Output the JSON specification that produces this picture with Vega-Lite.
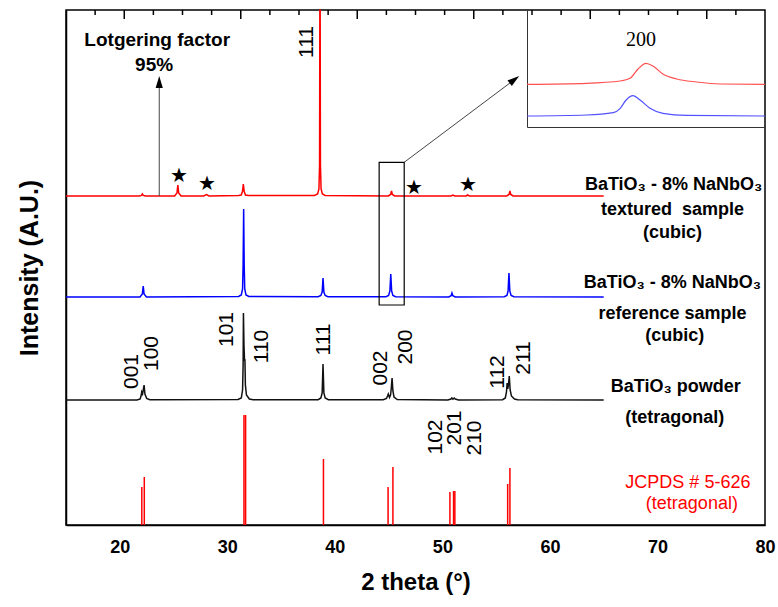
{
  "$schema": "https://vega.github.io/schema/vega-lite/v6.json",
  "width": 699,
  "height": 515,
  "autosize": {"type": "none"},
  "padding": {"left": 66, "top": 10, "right": 13, "bottom": 82},
  "background": "white",
  "config": {"view": {"stroke": "black", "strokeWidth": 1.5}},
  "datasets": {
    "red": [
      {"x": 15, "y": 329}, {"x": 21.8, "y": 329}, {"x": 22.02, "y": 329.6}, {"x": 22.1, "y": 331}, {"x": 22.18, "y": 329.6}, {"x": 22.4, "y": 329},
      {"x": 25.1, "y": 329}, {"x": 25.32, "y": 332}, {"x": 25.4, "y": 340}, {"x": 25.48, "y": 332}, {"x": 25.7, "y": 329},
      {"x": 27.8, "y": 329}, {"x": 28.07, "y": 330.5}, {"x": 28.3, "y": 329},
      {"x": 31.05, "y": 329.4}, {"x": 31.29, "y": 330}, {"x": 31.41, "y": 333.5}, {"x": 31.49, "y": 341}, {"x": 31.57, "y": 333.5}, {"x": 31.69, "y": 330}, {"x": 31.95, "y": 329.4},
      {"x": 38.1, "y": 329.5}, {"x": 38.4, "y": 331}, {"x": 38.52, "y": 336}, {"x": 38.58, "y": 360}, {"x": 38.605, "y": 515}, {"x": 38.635, "y": 515}, {"x": 38.66, "y": 360}, {"x": 38.72, "y": 336}, {"x": 38.84, "y": 331}, {"x": 39.1, "y": 329.5},
      {"x": 44.97, "y": 329}, {"x": 45.19, "y": 330.5}, {"x": 45.27, "y": 334}, {"x": 45.35, "y": 330.5}, {"x": 45.57, "y": 329},
      {"x": 50.8, "y": 329}, {"x": 50.98, "y": 330}, {"x": 51.15, "y": 329},
      {"x": 52.2, "y": 329}, {"x": 52.35, "y": 330}, {"x": 52.5, "y": 329},
      {"x": 55.98, "y": 329}, {"x": 56.2, "y": 330.5}, {"x": 56.28, "y": 334}, {"x": 56.36, "y": 330.5}, {"x": 56.58, "y": 329},
      {"x": 65, "y": 329}
    ],
    "blue": [
      {"x": 15, "y": 228}, {"x": 21.88, "y": 228}, {"x": 22.1, "y": 231}, {"x": 22.18, "y": 239}, {"x": 22.26, "y": 231}, {"x": 22.48, "y": 228},
      {"x": 31.05, "y": 228.5}, {"x": 31.3, "y": 230}, {"x": 31.42, "y": 236}, {"x": 31.47, "y": 260}, {"x": 31.52, "y": 316}, {"x": 31.57, "y": 260}, {"x": 31.62, "y": 236}, {"x": 31.74, "y": 230}, {"x": 32.0, "y": 228.5},
      {"x": 38.45, "y": 228.3}, {"x": 38.7, "y": 229.5}, {"x": 38.82, "y": 233}, {"x": 38.9, "y": 247}, {"x": 38.98, "y": 233}, {"x": 39.1, "y": 229.5}, {"x": 39.35, "y": 228.3},
      {"x": 44.75, "y": 228.3}, {"x": 45.0, "y": 229.5}, {"x": 45.12, "y": 234}, {"x": 45.2, "y": 251}, {"x": 45.28, "y": 234}, {"x": 45.4, "y": 229.5}, {"x": 45.65, "y": 228.3},
      {"x": 50.6, "y": 228}, {"x": 50.81, "y": 229.3}, {"x": 50.89, "y": 232}, {"x": 50.97, "y": 229.3}, {"x": 51.2, "y": 228},
      {"x": 55.75, "y": 228.3}, {"x": 56.0, "y": 229.5}, {"x": 56.11, "y": 234}, {"x": 56.19, "y": 252}, {"x": 56.27, "y": 234}, {"x": 56.39, "y": 229.5}, {"x": 56.65, "y": 228.3},
      {"x": 65, "y": 228}
    ],
    "black": [
      {"x": 15, "y": 125}, {"x": 21.6, "y": 125}, {"x": 21.9, "y": 126}, {"x": 22.0, "y": 130}, {"x": 22.04, "y": 133}, {"x": 22.12, "y": 131}, {"x": 22.2, "y": 136}, {"x": 22.26, "y": 140}, {"x": 22.34, "y": 131}, {"x": 22.5, "y": 126.5}, {"x": 22.8, "y": 125.3},
      {"x": 31.0, "y": 125.5}, {"x": 31.3, "y": 127}, {"x": 31.42, "y": 135}, {"x": 31.47, "y": 160}, {"x": 31.5, "y": 212}, {"x": 31.55, "y": 180}, {"x": 31.6, "y": 165}, {"x": 31.64, "y": 165}, {"x": 31.68, "y": 140}, {"x": 31.78, "y": 130}, {"x": 32.05, "y": 126}, {"x": 32.4, "y": 125.3},
      {"x": 38.45, "y": 125.3}, {"x": 38.7, "y": 127}, {"x": 38.82, "y": 132}, {"x": 38.9, "y": 161}, {"x": 38.98, "y": 132}, {"x": 39.1, "y": 127}, {"x": 39.4, "y": 125.3},
      {"x": 44.5, "y": 125.3}, {"x": 44.8, "y": 126.5}, {"x": 44.9, "y": 129}, {"x": 44.97, "y": 131}, {"x": 45.08, "y": 127.5}, {"x": 45.18, "y": 130}, {"x": 45.25, "y": 137}, {"x": 45.32, "y": 147}, {"x": 45.4, "y": 134}, {"x": 45.5, "y": 128}, {"x": 45.8, "y": 125.5},
      {"x": 50.5, "y": 125}, {"x": 50.8, "y": 126}, {"x": 50.88, "y": 127}, {"x": 50.98, "y": 125.8}, {"x": 51.1, "y": 127}, {"x": 51.2, "y": 126}, {"x": 51.5, "y": 125},
      {"x": 55.6, "y": 125.3}, {"x": 55.85, "y": 127}, {"x": 55.96, "y": 133}, {"x": 56.02, "y": 142}, {"x": 56.08, "y": 136}, {"x": 56.14, "y": 140}, {"x": 56.22, "y": 149}, {"x": 56.3, "y": 135}, {"x": 56.42, "y": 129}, {"x": 56.7, "y": 126}, {"x": 57.0, "y": 125.3},
      {"x": 65, "y": 125}
    ],
    "sticks": [
      {"x": 22.05, "y": 38}, {"x": 22.28, "y": 48}, {"x": 31.55, "y": 110}, {"x": 31.7, "y": 110}, {"x": 38.94, "y": 66}, {"x": 44.95, "y": 38}, {"x": 45.4, "y": 58}, {"x": 50.7, "y": 33}, {"x": 51.04, "y": 34}, {"x": 51.16, "y": 34}, {"x": 56.07, "y": 41}, {"x": 56.28, "y": 57}
    ],
    "majorTicks": [{"x": 20}, {"x": 30}, {"x": 40}, {"x": 50}, {"x": 60}, {"x": 70}, {"x": 80}],
    "minorTicks": [{"x": 17.5}, {"x": 22.5}, {"x": 25}, {"x": 27.5}, {"x": 32.5}, {"x": 35}, {"x": 37.5}, {"x": 42.5}, {"x": 45}, {"x": 47.5}, {"x": 52.5}, {"x": 55}, {"x": 57.5}, {"x": 62.5}, {"x": 65}, {"x": 67.5}, {"x": 72.5}, {"x": 75}, {"x": 77.5}],
    "topMajor": [{"x": 20}, {"x": 30}, {"x": 40}, {"x": 50}, {"x": 60}, {"x": 70}],
    "topMinor": [{"x": 17.5}, {"x": 22.5}, {"x": 25}, {"x": 27.5}, {"x": 32.5}, {"x": 35}, {"x": 37.5}, {"x": 42.5}, {"x": 45}, {"x": 47.5}, {"x": 52.5}, {"x": 55}, {"x": 57.5}, {"x": 62.5}, {"x": 65}, {"x": 67.5}, {"x": 72.5}],
    "insetTicks": [{"x": 44}, {"x": 44.2}, {"x": 44.4}, {"x": 44.6}, {"x": 44.8}, {"x": 45}, {"x": 45.2}, {"x": 45.4}, {"x": 45.6}, {"x": 45.8}, {"x": 46}, {"x": 46.2}, {"x": 46.4}],
    "insetRed": [
      {"x": 44.0, "y": 42.7}, {"x": 44.6, "y": 43.7}, {"x": 44.94, "y": 46}, {"x": 45.04, "y": 48.7}, {"x": 45.12, "y": 58}, {"x": 45.2, "y": 63.7}, {"x": 45.27, "y": 61}, {"x": 45.37, "y": 53}, {"x": 45.51, "y": 48}, {"x": 45.71, "y": 45}, {"x": 45.95, "y": 43}, {"x": 46.4, "y": 42.7}
    ],
    "insetBlue": [
      {"x": 44.0, "y": 11}, {"x": 44.6, "y": 12}, {"x": 44.87, "y": 14.3}, {"x": 44.94, "y": 18.7}, {"x": 45.0, "y": 27}, {"x": 45.07, "y": 31.3}, {"x": 45.14, "y": 27}, {"x": 45.24, "y": 18.7}, {"x": 45.37, "y": 13.7}, {"x": 45.61, "y": 11.7}, {"x": 46.4, "y": 11}
    ]
  },
  "layer": [
    {
      "encoding": {
        "x": {"field": "x", "type": "quantitative", "scale": {"domain": [15, 80], "nice": false, "zero": false},
          "axis": {"orient": "bottom", "values": [20, 30, 40, 50, 60, 70, 80], "ticks": false,
            "labelFont": "Liberation Sans", "labelFontSize": 18, "labelFontWeight": "bold", "labelColor": "black", "labelPadding": 13,
            "labelFlush": false, "labelOverlap": false,
            "title": "2 theta (°)", "titleFont": "Liberation Sans", "titleFontSize": 24, "titleFontWeight": "bold", "titleColor": "black", "titlePadding": 14,
            "domainColor": "black", "domainWidth": 1.5, "grid": false}},
        "y": {"field": "y", "type": "quantitative", "scale": {"domain": [0, 515], "nice": false, "zero": false},
          "axis": {"orient": "left", "title": "Intensity (A.U.)", "ticks": false, "labels": false, "domainColor": "black", "domainWidth": 1.5,
            "titleFont": "Liberation Sans", "titleFontSize": 25, "titleFontWeight": "bold", "titleColor": "black", "titlePadding": 24, "grid": false}}
      },
      "layer": [
        {"data": {"name": "red"}, "mark": {"type": "line", "strokeWidth": 1.5, "color": "#ff0000"}},
        {"data": {"name": "blue"}, "mark": {"type": "line", "strokeWidth": 1.5, "color": "#0000ff"}},
        {"data": {"name": "black"}, "mark": {"type": "line", "strokeWidth": 1.5, "color": "#111111"}},
        {
          "data": {"name": "sticks"},
          "mark": {"type": "rule", "color": "#ff0000", "strokeWidth": 1.5},
          "encoding": {"y2": {"datum": 0}}
        },
        {
          "data": {"name": "majorTicks"},
          "mark": {"type": "rule", "color": "black", "strokeWidth": 1.5, "y2Offset": 9},
          "encoding": {"y": {"datum": 0}, "y2": {"datum": 0}}
        },
        {
          "data": {"name": "minorTicks"},
          "mark": {"type": "rule", "color": "black", "strokeWidth": 1.5, "y2Offset": 5},
          "encoding": {"y": {"datum": 0}, "y2": {"datum": 0}}
        },
        {
          "data": {"values": [
            {"x": 23.67, "y": 329, "x2": 23.67, "y2": 440},
            {"x": 46.45, "y": 362.7, "x2": 56.9, "y2": 447}
          ]},
          "mark": {"type": "rule", "color": "#444444", "strokeWidth": 1},
          "encoding": {"x2": {"field": "x2"}, "y2": {"field": "y2"}}
        },
        {
          "data": {"values": [{"x": 44.12, "x2": 46.45, "y": 220, "y2": 362.7}]},
          "mark": {"type": "rect", "filled": false, "stroke": "black", "strokeWidth": 1.2},
          "encoding": {"x2": {"field": "x2"}, "y2": {"field": "y2"}}
        },
        {
          "data": {"values": [{"x": 23.67, "y": 443}]},
          "mark": {"type": "point", "shape": "M0,-1L0.6,1L-0.6,1Z", "size": 144, "filled": true, "color": "black", "opacity": 1}
        },
        {
          "data": {"values": [{"x": 56.7, "y": 445.4}]},
          "mark": {"type": "point", "shape": "M0,-1L0.6,1L-0.6,1Z", "size": 144, "filled": true, "color": "black", "opacity": 1, "angle": 53}
        },
        {
          "data": {"values": [{"x": 25.5, "y": 349}, {"x": 28.07, "y": 341}, {"x": 47.33, "y": 337}, {"x": 52.35, "y": 340}]},
          "mark": {"type": "text", "text": "★", "fontSize": 20, "color": "black", "align": "center", "baseline": "middle"}
        },
        {
          "data": {"values": [
            {"t": "BaTiO₃ - 8% NaNbO₃", "x": 71.5, "y": 340},
            {"t": "textured \u00a0sample", "x": 71.4, "y": 315},
            {"t": "(cubic)", "x": 71.4, "y": 292},
            {"t": "BaTiO₃ - 8% NaNbO₃", "x": 71.4, "y": 242},
            {"t": "reference sample", "x": 71.4, "y": 211},
            {"t": "(cubic)", "x": 71.6, "y": 189},
            {"t": "BaTiO₃ powder", "x": 71.7, "y": 138},
            {"t": "(tetragonal)", "x": 71.6, "y": 107}
          ]},
          "mark": {"type": "text", "font": "Liberation Sans", "fontSize": 18, "fontWeight": "bold", "color": "black", "align": "center", "baseline": "middle"},
          "encoding": {"text": {"field": "t"}}
        },
        {
          "data": {"values": [
            {"t": "Lotgering factor", "x": 23.48, "y": 485},
            {"t": "95%", "x": 23.19, "y": 460}
          ]},
          "mark": {"type": "text", "font": "Liberation Sans", "fontSize": 19, "fontWeight": "bold", "color": "black", "align": "center", "baseline": "middle"},
          "encoding": {"text": {"field": "t"}}
        },
        {
          "data": {"values": [
            {"t": "JCPDS # 5-626", "x": 72.83, "y": 42},
            {"t": "(tetragonal)", "x": 73.2, "y": 21}
          ]},
          "mark": {"type": "text", "font": "Liberation Sans", "fontSize": 18, "color": "#ff0000", "align": "center", "baseline": "middle"},
          "encoding": {"text": {"field": "t"}}
        },
        {
          "data": {"values": [
            {"t": "111", "x": 37.45, "y": 483},
            {"t": "001", "x": 21.15, "y": 153.5},
            {"t": "100", "x": 23.02, "y": 171.5},
            {"t": "101", "x": 30.0, "y": 195.5},
            {"t": "110", "x": 33.26, "y": 178.5},
            {"t": "111", "x": 38.99, "y": 185.5},
            {"t": "002", "x": 44.27, "y": 157},
            {"t": "200", "x": 46.6, "y": 178},
            {"t": "112", "x": 55.14, "y": 153},
            {"t": "211", "x": 57.62, "y": 167},
            {"t": "102", "x": 49.38, "y": 88},
            {"t": "201", "x": 51.2, "y": 97},
            {"t": "210", "x": 53.05, "y": 87}
          ]},
          "mark": {"type": "text", "font": "Liberation Sans", "fontSize": 21, "angle": 270, "color": "black", "align": "center", "baseline": "middle"},
          "encoding": {"text": {"field": "t"}}
        }
      ]
    },
    {
      "encoding": {
        "x": {"field": "x", "type": "quantitative", "scale": {"domain": [15, 75], "nice": false, "zero": false}, "axis": null},
        "y": {"datum": 515, "type": "quantitative", "scale": {"domain": [0, 515], "nice": false, "zero": false}, "axis": null},
        "y2": {"datum": 515}
      },
      "layer": [
        {"data": {"name": "topMajor"}, "mark": {"type": "rule", "color": "black", "strokeWidth": 1.5, "y2Offset": 9}},
        {"data": {"name": "topMinor"}, "mark": {"type": "rule", "color": "black", "strokeWidth": 1.5, "y2Offset": 5}}
      ]
    },
    {
      "encoding": {
        "x": {"field": "x", "type": "quantitative", "scale": {"domain": [44, 46.4], "range": [461, 699], "nice": false, "zero": false},
          "axis": {"orient": "bottom", "offset": -398, "values": [44, 45, 46], "labels": false, "ticks": false, "domainColor": "#333333", "domainWidth": 1, "title": null, "grid": false}},
        "y": {"field": "y", "type": "quantitative", "scale": {"domain": [0, 117], "range": [117, 0], "nice": false, "zero": false},
          "axis": {"orient": "left", "offset": -461, "ticks": false, "labels": false, "domainColor": "#333333", "domainWidth": 1, "title": null, "grid": false}}
      },
      "layer": [
        {"data": {"name": "insetRed"}, "mark": {"type": "line", "interpolate": "monotone", "strokeWidth": 1.2, "color": "#ff5050"}},
        {"data": {"name": "insetBlue"}, "mark": {"type": "line", "interpolate": "monotone", "strokeWidth": 1.2, "color": "#5050ff"}},
        {
          "data": {"name": "insetTicks"},
          "mark": {"type": "rule", "color": "#333333", "strokeWidth": 1, "y2Offset": 3},
          "encoding": {"y": {"datum": 0}, "y2": {"datum": 0}}
        },
        {
          "data": {"values": [{"t": "200", "x": 45.15, "y": 87}]},
          "mark": {"type": "text", "font": "Liberation Serif", "fontSize": 20, "color": "black", "align": "center", "baseline": "middle"},
          "encoding": {"text": {"field": "t"}}
        }
      ]
    }
  ],
  "resolve": {"scale": {"x": "independent", "y": "independent"}}
}
